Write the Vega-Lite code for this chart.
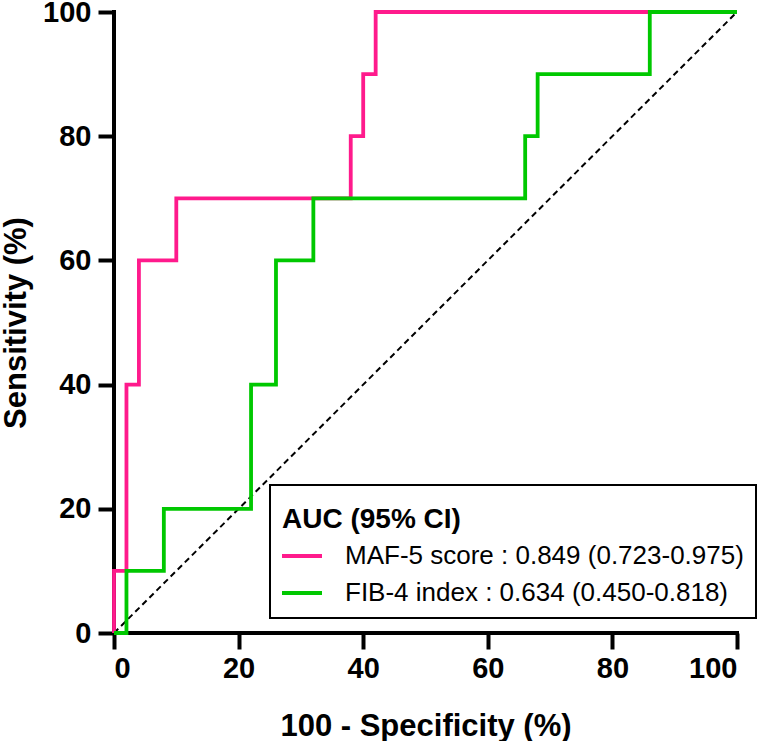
{
  "$schema": "https://vega.github.io/schema/vega-lite/v6.json",
  "width": 623,
  "height": 621,
  "autosize": {"type": "none"},
  "padding": {"left": 114, "top": 12, "right": 25, "bottom": 108},
  "config": {
    "view": {"stroke": null},
    "font": "Liberation Sans",
    "axis": {
      "grid": false,
      "domain": false,
      "tickColor": "black",
      "tickWidth": 4,
      "tickSize": 16,
      "labelFont": "Liberation Sans",
      "labelFontSize": 29,
      "labelFontWeight": "bold",
      "labelColor": "black",
      "titleFont": "Liberation Sans",
      "titleFontSize": 31,
      "titleFontWeight": "bold",
      "titleColor": "black"
    }
  },
  "layer": [
    {
      "data": {
        "values": [
          {"fpr": 0, "tpr": 0, "fpr_end": 100, "tpr_end": 0},
          {"fpr": 0, "tpr": 0, "fpr_end": 0, "tpr_end": 100}
        ]
      },
      "mark": {"type": "rule", "color": "black", "strokeWidth": 4, "strokeCap": "square"},
      "encoding": {
        "x": {"field": "fpr", "type": "quantitative"},
        "y": {"field": "tpr", "type": "quantitative"},
        "x2": {"field": "fpr_end"},
        "y2": {"field": "tpr_end"}
      }
    },
    {
      "data": {"values": [{"fpr": 0, "tpr": 0}, {"fpr": 100, "tpr": 100}]},
      "mark": {"type": "line", "color": "black", "strokeWidth": 2, "strokeDash": [6, 4]},
      "encoding": {
        "x": {"field": "fpr", "type": "quantitative"},
        "y": {"field": "tpr", "type": "quantitative"}
      }
    },
    {
      "data": {
        "values": [
          {"series": "MAF-5 score : 0.849 (0.723-0.975)", "rank": 1, "fpr": 0, "tpr": 0},
          {"series": "MAF-5 score : 0.849 (0.723-0.975)", "rank": 2, "fpr": 0, "tpr": 10},
          {"series": "MAF-5 score : 0.849 (0.723-0.975)", "rank": 3, "fpr": 2, "tpr": 40},
          {"series": "MAF-5 score : 0.849 (0.723-0.975)", "rank": 4, "fpr": 4, "tpr": 60},
          {"series": "MAF-5 score : 0.849 (0.723-0.975)", "rank": 5, "fpr": 10, "tpr": 70},
          {"series": "MAF-5 score : 0.849 (0.723-0.975)", "rank": 6, "fpr": 38, "tpr": 80},
          {"series": "MAF-5 score : 0.849 (0.723-0.975)", "rank": 7, "fpr": 40, "tpr": 90},
          {"series": "MAF-5 score : 0.849 (0.723-0.975)", "rank": 8, "fpr": 42, "tpr": 100},
          {"series": "MAF-5 score : 0.849 (0.723-0.975)", "rank": 9, "fpr": 100, "tpr": 100},
          {"series": "FIB-4 index : 0.634 (0.450-0.818)", "rank": 1, "fpr": 0, "tpr": 0},
          {"series": "FIB-4 index : 0.634 (0.450-0.818)", "rank": 2, "fpr": 2, "tpr": 10},
          {"series": "FIB-4 index : 0.634 (0.450-0.818)", "rank": 3, "fpr": 8, "tpr": 20},
          {"series": "FIB-4 index : 0.634 (0.450-0.818)", "rank": 4, "fpr": 22, "tpr": 40},
          {"series": "FIB-4 index : 0.634 (0.450-0.818)", "rank": 5, "fpr": 26, "tpr": 60},
          {"series": "FIB-4 index : 0.634 (0.450-0.818)", "rank": 6, "fpr": 32, "tpr": 70},
          {"series": "FIB-4 index : 0.634 (0.450-0.818)", "rank": 7, "fpr": 66, "tpr": 80},
          {"series": "FIB-4 index : 0.634 (0.450-0.818)", "rank": 8, "fpr": 68, "tpr": 90},
          {"series": "FIB-4 index : 0.634 (0.450-0.818)", "rank": 9, "fpr": 86, "tpr": 100},
          {"series": "FIB-4 index : 0.634 (0.450-0.818)", "rank": 10, "fpr": 100, "tpr": 100}
        ]
      },
      "mark": {"type": "line", "interpolate": "step-after", "strokeWidth": 3.8},
      "encoding": {
        "x": {
          "field": "fpr",
          "type": "quantitative",
          "title": "100 - Specificity (%)",
          "scale": {"domain": [0, 100], "nice": false},
          "axis": {"values": [0, 20, 40, 60, 80, 100], "labelPadding": 5, "titlePadding": 28}
        },
        "y": {
          "field": "tpr",
          "type": "quantitative",
          "title": "Sensitivity (%)",
          "scale": {"domain": [0, 100], "nice": false},
          "axis": {"values": [0, 20, 40, 60, 80, 100], "labelPadding": 7, "titlePadding": 10}
        },
        "order": {"field": "rank", "type": "quantitative"},
        "color": {
          "field": "series",
          "type": "nominal",
          "scale": {
            "domain": ["MAF-5 score : 0.849 (0.723-0.975)", "FIB-4 index : 0.634 (0.450-0.818)"],
            "range": ["#ff1a8c", "#00c800"]
          },
          "legend": {
            "title": "AUC (95% CI)",
            "orient": "none",
            "legendX": 156,
            "legendY": 473,
            "padding": 12,
            "strokeColor": "black",
            "fillColor": "white",
            "titleFont": "Liberation Sans",
            "titleFontSize": 28,
            "titleFontWeight": "bold",
            "titleColor": "black",
            "titleBaseline": "line-top",
            "titleLineHeight": 46,
            "titlePadding": 18,
            "labelFont": "Liberation Sans",
            "labelFontSize": 26,
            "labelColor": "black",
            "labelLimit": 600,
            "symbolType": "M-2,0H2",
            "symbolSize": 400,
            "symbolStrokeWidth": 3.8,
            "symbolOffset": 7,
            "labelOffset": 30,
            "rowPadding": 11,
            "encode": {"legend": {"update": {"strokeWidth": {"value": 2}}}}
          }
        }
      }
    }
  ]
}
